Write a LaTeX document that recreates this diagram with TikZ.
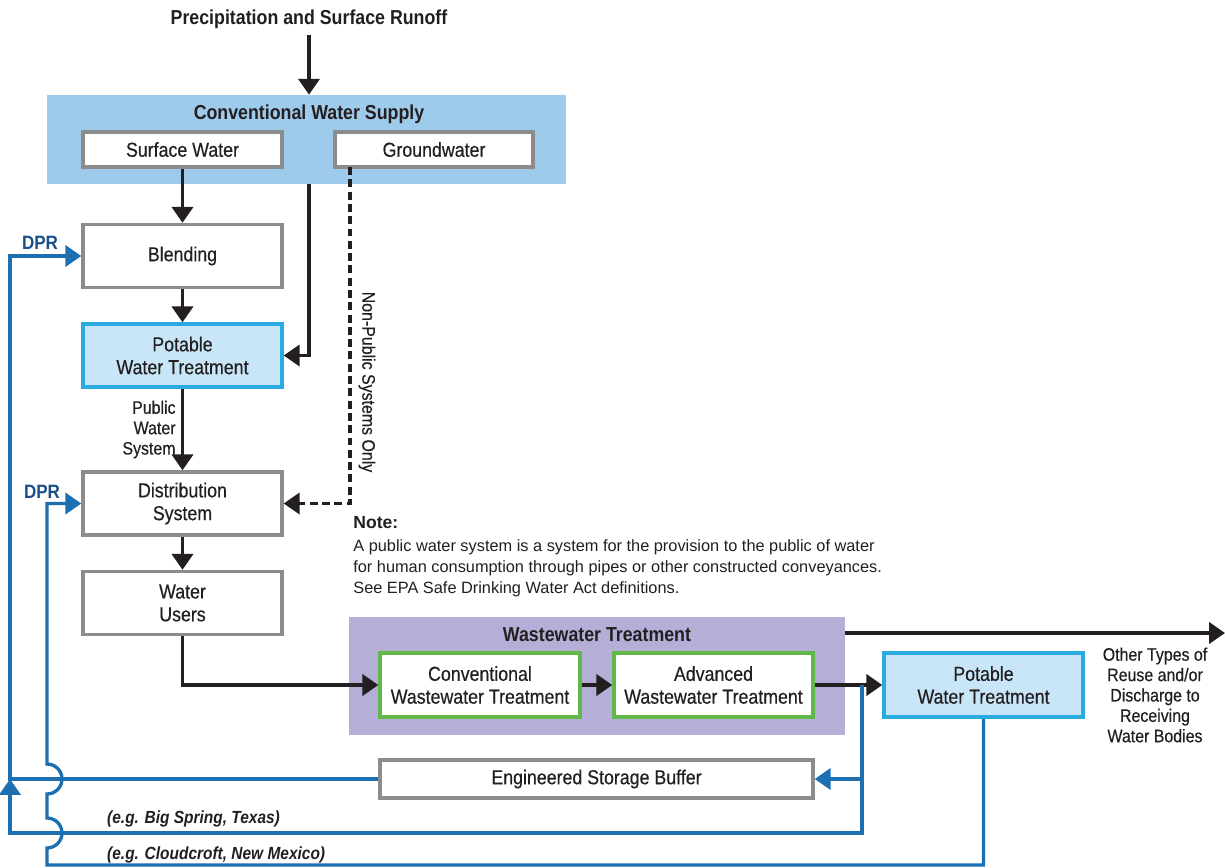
\documentclass[tikz,border=0pt]{standalone}
\usepackage{fontspec}
\setmainfont[FakeStretch=0.88]{Liberation Sans}
\newfontfamily\medfont[FakeStretch=0.88,FakeBold=0.4]{Liberation Sans}
\newfontfamily\notefont{Liberation Sans}
\usetikzlibrary{arrows.meta}

\definecolor{textcol}{RGB}{35,31,32}
\definecolor{boxgray}{RGB}{140,140,140}
\definecolor{supplyblue}{RGB}{158,202,236}
\definecolor{potfill}{RGB}{200,230,247}
\definecolor{potdraw}{RGB}{41,171,226}
\definecolor{wwfill}{RGB}{181,174,214}
\definecolor{wwgreen}{RGB}{96,184,72}
\definecolor{flowblue}{RGB}{28,112,178}
\definecolor{dprblue}{RGB}{27,79,138}

\tikzset{
    box/.style={draw=boxgray, line width=2pt, fill=white, align=center,
        minimum width=3.98cm, minimum height=1.26cm, inner sep=1pt,
        text=textcol, font=\medfont\fontsize{11.5}{13}\selectfont},
    shortbox/.style={box, minimum height=0.7cm},
    potbox/.style={box, draw=potdraw, fill=potfill},
    wwbox/.style={box, draw=wwgreen, minimum width=4cm, minimum height=1.28cm},
    groupbox/.style={draw=none, inner sep=0pt},
    grouptitle/.style={text=textcol, font=\bfseries\fontsize{11.5}{13}\selectfont},
    lbl/.style={text=textcol, align=center, font=\medfont\fontsize{10.3}{11.6}\selectfont},
    dpr/.style={text=dprblue, font=\bfseries\fontsize{11}{12}\selectfont},
    eg/.style={text=textcol, anchor=west, font=\bfseries\itshape\fontsize{10}{11}\selectfont},
    arr/.style={line width=1.9pt, draw=textcol, -{Triangle[length=9pt,width=12pt]}},
    dasharr/.style={arr, dash pattern=on 4.5pt off 2.5pt},
    blueline/.style={line width=1.9pt, draw=flowblue},
    bluearr/.style={blueline, -{Triangle[length=9pt,width=12pt]}}
}

\begin{document}
\begin{tikzpicture}[x=0.02cm, y=-0.02cm]
    % Canvas (pixel grid of the reference)
    \fill[white] (0,0) rectangle (1225,867);
    \useasboundingbox (0,0) rectangle (1225,867);

    % Source
    \node[grouptitle] (rain) at (309,19) {Precipitation and Surface Runoff};

    % Conventional water supply
    \node[groupbox, fill=supplyblue, minimum width=10.38cm, minimum height=1.78cm] (cws) at (306.5,139.5) {};
    \node[grouptitle] (cwstitle) at (309,114) {Conventional Water Supply};
    \node[shortbox] (sw) at (182.5,149.5) {Surface Water};
    \node[shortbox, minimum width=3.96cm] (gw) at (434,149.5) {Groundwater};

    % Drinking water chain
    \node[box] (blend) at (182.5,256) {Blending};
    \node[potbox] (pwt) at (182.5,355.5) {Potable\\Water Treatment};
    \node[box] (dist) at (182.5,503.5) {Distribution\\System};
    \node[box] (users) at (182.5,603) {Water\\Users};

    % Wastewater treatment
    \node[groupbox, fill=wwfill, minimum width=9.92cm, minimum height=2.36cm] (wwt) at (597,676) {};
    \node[grouptitle] (wwttitle) at (597,635) {Wastewater Treatment};
    \node[wwbox] (cwt) at (480,685) {Conventional\\Wastewater Treatment};
    \node[wwbox, minimum width=3.98cm] (awt) at (713.5,685) {Advanced\\Wastewater Treatment};
    \node[potbox, minimum height=1.28cm] (pwt2) at (983.5,685) {Potable\\Water Treatment};
    \node[shortbox, minimum width=8.66cm, minimum height=0.76cm] (esb) at (596.5,779) {Engineered Storage Buffer};

    % Free ends and corners
    \coordinate (cwsout) at (309,184);
    \coordinate (gwout) at (350,167);
    \coordinate (wwtout) at (845,633);
    \coordinate (other) at (1225,633);
    \coordinate (tap) at (862,685);
    \coordinate (c1) at (10,779);
    \coordinate (c3) at (10,833);
    \coordinate (c4) at (47,865);

    % Black flows
    \draw[arr] (rain.south) -- (rain.south |- cws.north);
    \draw[arr] (sw) -- (blend);
    \draw[arr] (blend) -- (pwt);
    \draw[arr] (cwsout) |- (pwt.east);
    \draw[dasharr] (gwout) |- (dist.east);
    \draw[arr] (pwt) -- node[lbl, left, align=right, inner sep=3pt] {Public\\Water\\System} (dist);
    \draw[arr] (dist) -- (users);
    \draw[arr] (users.south) |- (cwt.west);
    \draw[arr] (cwt) -- (awt);
    \draw[arr] (awt) -- (pwt2);
    \draw[arr] (wwtout) -- (other);

    % Blue reuse flows
    \draw[bluearr] (tap) |- (esb.east);
    \draw[bluearr] (esb.west) -- (c1) |- (blend.west);
    \draw[bluearr] (tap) |- (c3) -- (c1);
    \draw[bluearr] (pwt2.south) |- (c4) -- (47,848)
        arc[start angle=-90, end angle=90, radius=0.3cm] -- (47,794)
        arc[start angle=-90, end angle=90, radius=0.3cm] |- (dist.west);

    % Labels
    \node[lbl, rotate=-90] (nonpub) at (367,382) {Non-Public Systems Only};
    \node[lbl] (otherlbl) at (1155,695) {Other Types of\\Reuse and/or\\Discharge to\\Receiving\\Water Bodies};
    \node[dpr] (dpr1) at (40,243) {DPR};
    \node[dpr] (dpr2) at (42,492) {DPR};
    \node[eg] (bigspring) at (101,819) {(e.g. Big Spring, Texas)};
    \node[eg] (cloudcroft) at (101,855) {(e.g. Cloudcroft, New Mexico)};

    % Note
    \node[anchor=north west, align=left, text=textcol, inner sep=0pt,
        font=\notefont\fontsize{9.3}{11.9}\selectfont] (note) at (353,516)
        {{\bfseries\fontsize{10}{11.9}\selectfont Note:}\\[1.5pt]
        A public water system is a system for the provision to the public of water\\
        for human consumption through pipes or other constructed conveyances.\\
        See EPA Safe Drinking Water Act definitions.};
\end{tikzpicture}
\end{document}
